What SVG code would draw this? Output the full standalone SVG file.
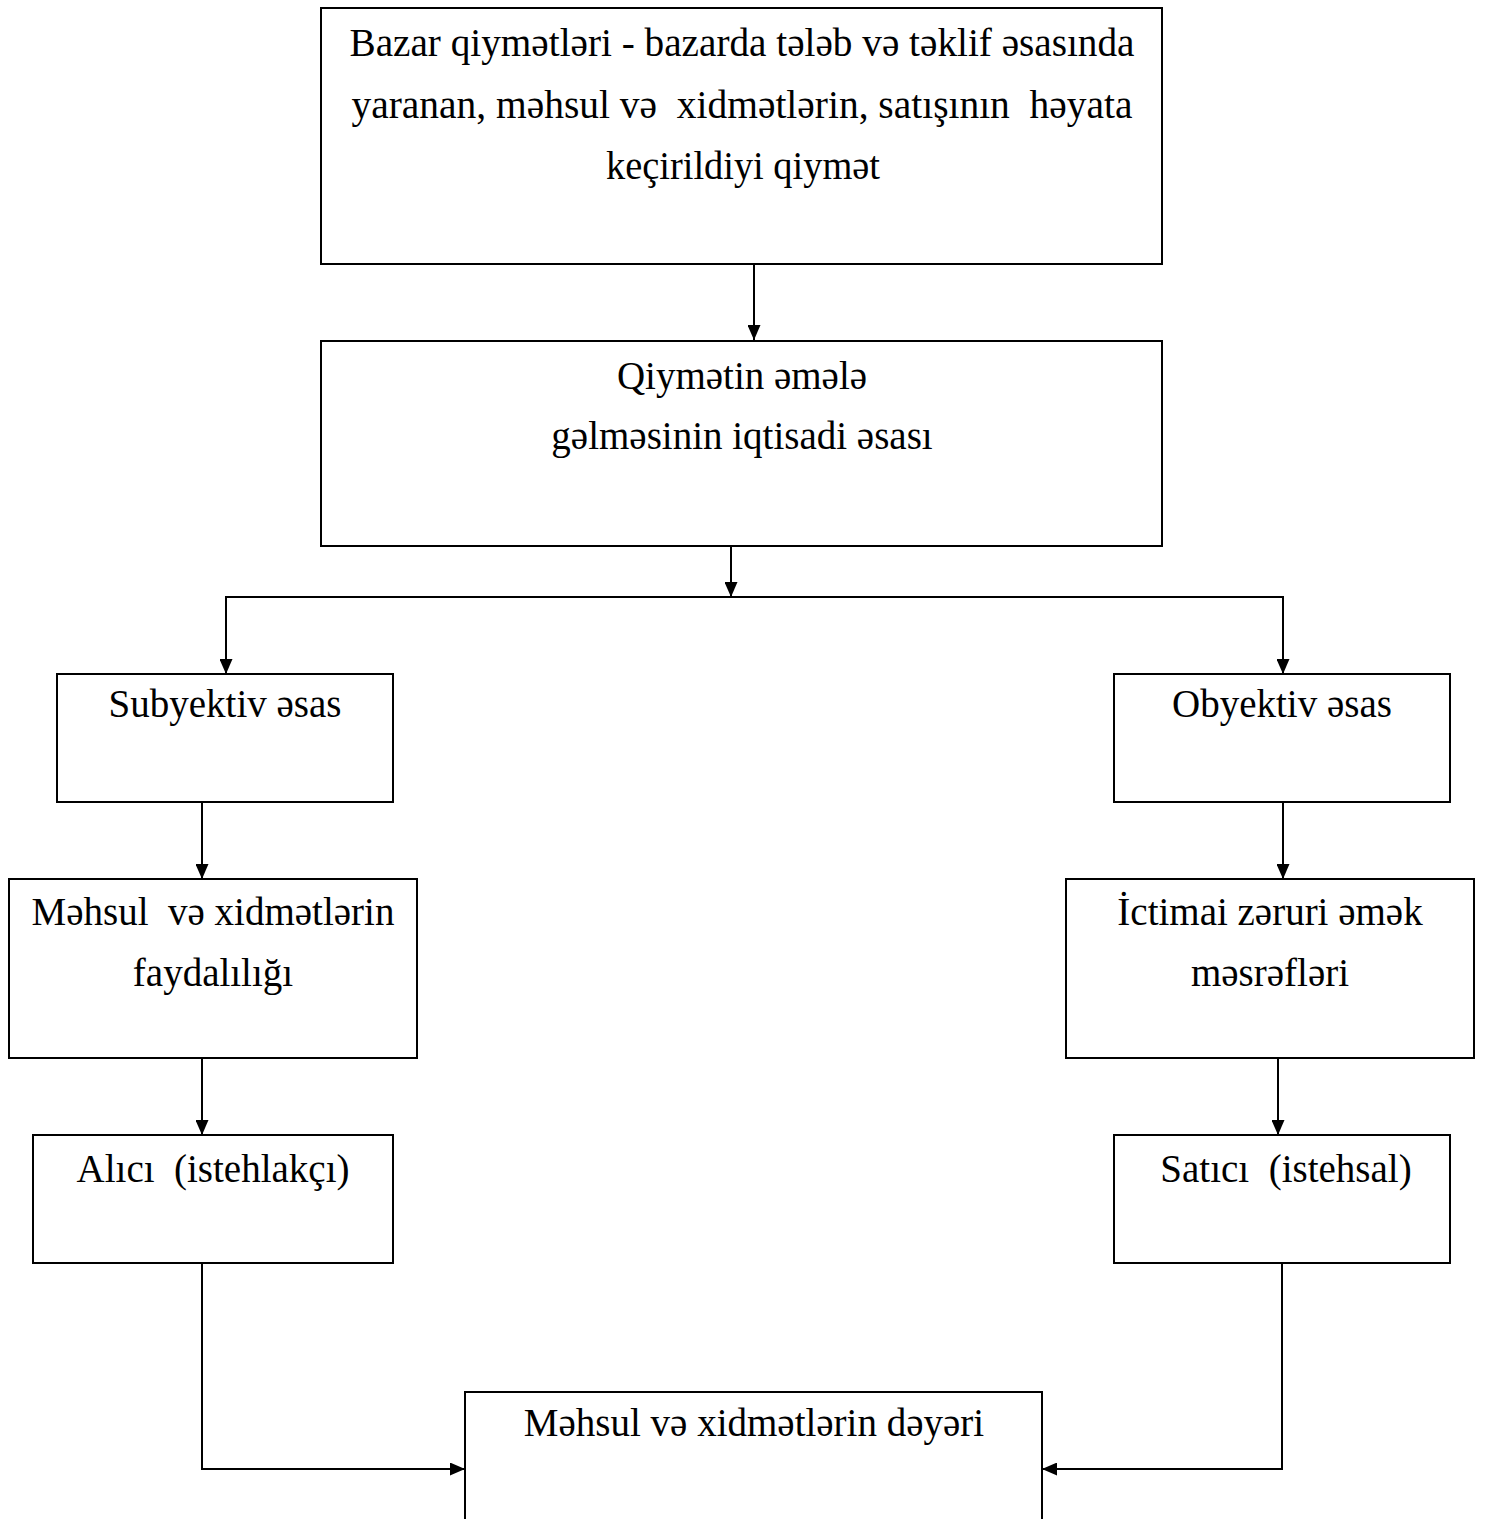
<svg xmlns="http://www.w3.org/2000/svg" width="1488" height="1519" viewBox="0 0 1488 1519">
<style>
.box{fill:#fff;stroke:#000;stroke-width:2}
.t{font-family:"Liberation Serif","Times New Roman",serif;font-size:39px;fill:#000;text-anchor:middle;white-space:pre}
.c{fill:none;stroke:#000;stroke-width:2}
</style>
<defs>
<marker id="ahb" viewBox="0 0 15 13" refX="15" refY="6.5" markerWidth="15" markerHeight="13" markerUnits="userSpaceOnUse" orient="auto">
<path d="M0,0 L15,6.5 L0,13 z" fill="#000"/>
</marker>
</defs>
<rect width="1488" height="1519" fill="#fff"/>
<g id="connectors">
<line class="c" x1="754" y1="264" x2="754" y2="340" marker-end="url(#ahb)"/>
<line class="c" x1="731" y1="546" x2="731" y2="597" marker-end="url(#ahb)"/>
<polyline class="c" points="226,674 226,597 1283,597 1283,674"/>
<line class="c" x1="226" y1="597" x2="226" y2="674" marker-end="url(#ahb)"/>
<line class="c" x1="1283" y1="597" x2="1283" y2="674" marker-end="url(#ahb)"/>
<line class="c" x1="202" y1="802" x2="202" y2="879" marker-end="url(#ahb)"/>
<line class="c" x1="1283" y1="802" x2="1283" y2="879" marker-end="url(#ahb)"/>
<line class="c" x1="202" y1="1058" x2="202" y2="1135" marker-end="url(#ahb)"/>
<line class="c" x1="1278" y1="1058" x2="1278" y2="1135" marker-end="url(#ahb)"/>
<polyline class="c" points="202,1263 202,1469 465,1469" marker-end="url(#ahb)"/>
<polyline class="c" points="1282,1263 1282,1469 1042,1469" marker-end="url(#ahb)"/>
</g>
<g id="n1">
<rect class="box" x="321" y="8" width="841" height="256"/>
<text class="t" x="742" y="56" style="font-size:40px" textLength="785" lengthAdjust="spacingAndGlyphs">Bazar qiymətləri - bazarda tələb və təklif əsasında</text>
<text class="t" x="742" y="118" style="font-size:40px" textLength="781" lengthAdjust="spacingAndGlyphs">yaranan, məhsul və  xidmətlərin, satışının  həyata</text>
<text class="t" x="743" y="179" style="font-size:40px" textLength="274" lengthAdjust="spacingAndGlyphs">keçirildiyi qiymət</text>
</g>
<g id="n2">
<rect class="box" x="321" y="341" width="841" height="205"/>
<text class="t" x="742" y="389">Qiymətin əmələ</text>
<text class="t" x="742" y="449">gəlməsinin iqtisadi əsası</text>
</g>
<g id="n3">
<rect class="box" x="57" y="674" width="336" height="128"/>
<text class="t" x="225" y="717">Subyektiv əsas</text>
</g>
<g id="n4">
<rect class="box" x="1114" y="674" width="336" height="128"/>
<text class="t" x="1282" y="717">Obyektiv əsas</text>
</g>
<g id="n5">
<rect class="box" x="9" y="879" width="408" height="179"/>
<text class="t" x="213" y="925">Məhsul  və xidmətlərin</text>
<text class="t" x="213" y="986">faydalılığı</text>
</g>
<g id="n6">
<rect class="box" x="1066" y="879" width="408" height="179"/>
<text class="t" x="1270" y="925">İctimai zəruri əmək</text>
<text class="t" x="1270" y="986">məsrəfləri</text>
</g>
<g id="n7">
<rect class="box" x="33" y="1135" width="360" height="128"/>
<text class="t" x="213" y="1182">Alıcı  (istehlakçı)</text>
</g>
<g id="n8">
<rect class="box" x="1114" y="1135" width="336" height="128"/>
<text class="t" x="1286" y="1182">Satıcı  (istehsal)</text>
</g>
<g id="n9">
<rect class="box" x="465" y="1392" width="577" height="140"/>
<text class="t" x="754" y="1436">Məhsul və xidmətlərin dəyəri</text>
</g>
</svg>
